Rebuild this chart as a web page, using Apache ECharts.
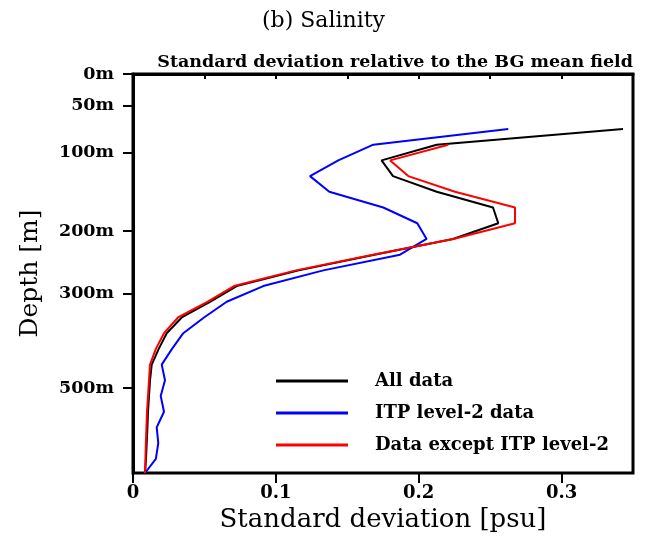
<!DOCTYPE html>
<html>
<head>
<meta charset="utf-8">
<script src="https://cdn.jsdelivr.net/npm/echarts@6/dist/echarts.min.js"></script>
<style>
html,body{margin:0;padding:0;background:#fff;}
#chart{width:647px;height:548px;}
</style>
</head>
<body>
<div id="chart"></div>
<script>
// Vertical model levels (axis position) and depth tick labels
const levels = [3.5,4.5,5.5,6.5,7.5,8.5,9.5,10.5,11.5,12.5,13.5,14.5,15.5,16.5,17.5,18.5,19.5,20.5,21.5,22.5,23.5,24.5,25.4];
const levelTicks = [0,2,5,10,14,20];
const depthTicks = [0,50,100,200,300,500];

// Standard deviation [psu]
const allData    = [0.343,0.2126,0.174,0.182,0.2126,0.252,0.2557,0.224,0.169,0.116,0.0726,0.0539,0.0341,0.0236,0.018,0.0131,0.0119,0.0112,0.0105,0.0101,0.0096,0.0091,0.0084];
const itpData    = [0.2627,0.1682,0.1437,0.1239,0.1374,0.1752,0.199,0.2055,0.1869,0.1332,0.0912,0.0656,0.0497,0.0352,0.0273,0.0201,0.0224,0.0194,0.0217,0.0166,0.0177,0.016,0.0084];
const exceptData = [null,0.2207,0.180,0.1927,0.2254,0.2674,0.2674,0.2242,0.168,0.114,0.0707,0.052,0.0315,0.0217,0.016,0.0119,0.0112,0.0105,0.0098,0.0094,0.009,0.0087,0.0084];

const seriesNames = ['All data','ITP level-2 data','Data except ITP level-2'];
const seriesColors = ['#000000','#0000ff','#ff0000'];
const xMajorTicks = [0,0.1,0.2,0.3];

const FONT = 'DejaVu Serif';
const pairs = arr => arr.map((v,i) => v === null ? [null, levels[i]] : [v, levels[i]]);

const chart = echarts.init(document.getElementById('chart'), null, {renderer:'canvas'});
chart.setOption({
  animation:false,
  backgroundColor:'#fff',
  title:[
    {text:'(b) Salinity', left:'center', top:5, textStyle:{fontFamily:FONT, fontSize:22, fontWeight:'normal', color:'#000'}},
    {text:'Standard deviation relative to the BG mean field', right:9, top:48, textStyle:{fontFamily:FONT, fontSize:17.5, fontWeight:'bold', color:'#000'}}
  ],
  grid:{left:133, top:74, right:14, bottom:75, show:true, borderColor:'#000', borderWidth:3, containLabel:false},
  legend:{
    orient:'vertical', left:271, top:367, itemWidth:72, itemHeight:3, itemGap:14,
    icon:'rect',
    textStyle:{fontFamily:FONT, fontSize:18, fontWeight:'bold', color:'#000', padding:[0,0,0,22], lineHeight:17.5},
    data:seriesNames
  },
  xAxis:[
    {type:'value', min:0, max:0.35, interval:0.05, position:'bottom',
     name:'Standard deviation [psu]', nameLocation:'middle', nameGap:34,
     nameTextStyle:{fontFamily:FONT, fontSize:26, color:'#000'},
     axisLine:{lineStyle:{color:'#000', width:3}},
     axisTick:{length:5, lineStyle:{color:'#000', width:2}},
     axisLabel:{margin:11, fontFamily:FONT, fontSize:18, fontWeight:'bold', color:'#000',
       formatter: v => { const r = Math.round(v*100)/100; return xMajorTicks.some(t => Math.abs(t-r) < 1e-9) ? String(r) : ''; }},
     splitLine:{show:false}},
    {type:'value', min:0, max:0.35, position:'bottom',
     axisLine:{show:false},
     axisTick:{show:true, length:10, customValues:xMajorTicks, lineStyle:{color:'#000', width:2}},
     axisLabel:{show:false}, splitLine:{show:false}}
  ],
  yAxis:{
    type:'value', inverse:true, min:0, max:25.4,
    name:'Depth [m]', nameLocation:'middle', nameGap:90, nameRotate:90,
    nameTextStyle:{fontFamily:FONT, fontSize:25, color:'#000'},
    axisLine:{lineStyle:{color:'#000', width:3}},
    axisTick:{length:10, customValues:levelTicks, lineStyle:{color:'#000', width:2}},
    axisLabel:{customValues:levelTicks, margin:19, fontFamily:FONT, fontSize:17.5, fontWeight:'bold', color:'#000',
      formatter: v => depthTicks[levelTicks.indexOf(v)] + 'm'},
    splitLine:{show:false}
  },
  series:[allData, itpData, exceptData].map((arr,i) => ({
    name:seriesNames[i], type:'line', data:pairs(arr), xAxisIndex:0,
    showSymbol:false, symbol:'none', connectNulls:false,
    lineStyle:{color:seriesColors[i], width:2}, itemStyle:{color:seriesColors[i]},
    z: i===1 ? 2 : (i===0 ? 3 : 4)
  }))
});
</script>
</body>
</html>
